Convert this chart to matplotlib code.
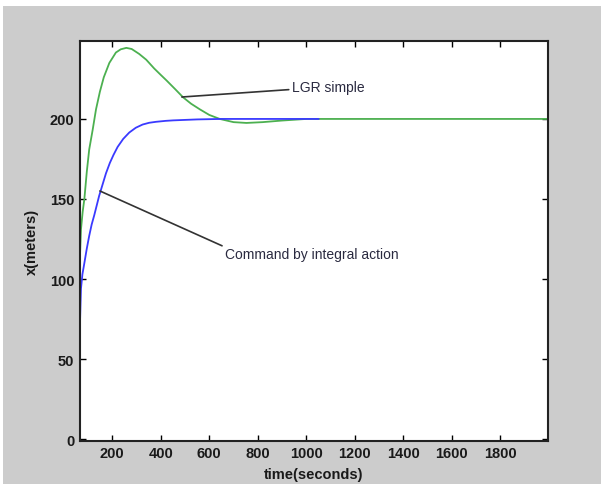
import matplotlib
matplotlib.use("Agg")
import matplotlib.pyplot as plt
from matplotlib.patches import Rectangle

t_lgr = [67, 71, 78, 85, 95, 105, 119, 133, 149, 165, 188, 215, 235, 258, 280, 311, 340, 373,
         400, 424, 460, 492, 525, 561, 600, 643, 700, 753, 820, 900, 1000, 1995]
x_lgr = [115, 131, 142, 150, 167, 181, 193, 206, 217, 226, 235, 241.5, 243.5, 244.4, 243.7, 240.6, 237, 231.5,
         227.5, 224, 218.5, 213.5, 209.5, 206, 202.5, 200, 198, 197.5, 198, 199, 200, 200]

t_int = [67, 69, 71, 77, 85, 95, 105, 115, 126, 136, 146, 160, 174, 190, 205, 222, 245, 270,
         297, 325, 352, 380, 420, 451, 500, 550, 650, 1050]
x_int = [73, 84, 94, 103, 110, 119, 127, 134, 140, 146, 152, 159, 166, 172.5, 177.5, 182.5, 187.5, 191.5,
         194.5, 196.5, 197.6, 198.2, 198.8, 199.1, 199.4, 199.7, 200, 200]

xticks = [200, 400, 600, 800, 1000, 1200, 1400, 1600, 1800]
yticks = [0, 50, 100, 150, 200]

plt.rcParams['font.family'] = ['Liberation Sans', 'DejaVu Sans']

fig = plt.figure(figsize=(6.01, 4.89), dpi=100, facecolor='white')
# grey window area, white strips on the top and left edges
fig.add_artist(Rectangle((3/601, 4/489), 598/601, 478/489, transform=fig.transFigure,
                         facecolor='#cccccc', edgecolor='none', zorder=-10))
ax = fig.add_axes([80/601, 47.3/489, 467.7/601, 399.4/489])
ax.set_facecolor('white')

ax.plot(t_lgr, x_lgr, color='#4cb050', lw=1.3)
ax.plot(t_int, x_int, color='#3a3aff', lw=1.3)

ax.annotate('LGR simple', xy=(487, 213.7), xytext=(939, 220), color='#2a2a40', fontsize=10,
            va='center', ha='left',
            arrowprops=dict(arrowstyle='-', color='#333333', lw=1.2, shrinkA=0, shrinkB=0))
ax.annotate('Command by integral action', xy=(149, 155), xytext=(664, 115.6), color='#2a2a40', fontsize=10,
            va='center', ha='left',
            arrowprops=dict(arrowstyle='-', color='#333333', lw=1.2, shrinkA=0, shrinkB=0,
                            relpos=(0, 1)))

ax.set_xlim(67, 1995)
ax.set_ylim(-1, 248.5)
ax.set_xticks(xticks)
ax.set_yticks(yticks)
ax.tick_params(direction='in', length=4, width=1, top=True, right=True, labelsize=10.5,
               labelcolor='#1a1a1a', pad=4)
for lab in ax.get_xticklabels() + ax.get_yticklabels():
    lab.set_fontweight('bold')
for s in ax.spines.values():
    s.set_linewidth(1.5)
    s.set_color('#222222')

ax.set_xlabel('time(seconds)', fontsize=10.5, color='#1a1a1a', labelpad=5, fontweight='bold')
ax.set_ylabel('x(meters)', fontsize=10.5, color='#1a1a1a', labelpad=8, fontweight='bold')

fig.savefig('out.png', dpi=100, facecolor=fig.get_facecolor())
